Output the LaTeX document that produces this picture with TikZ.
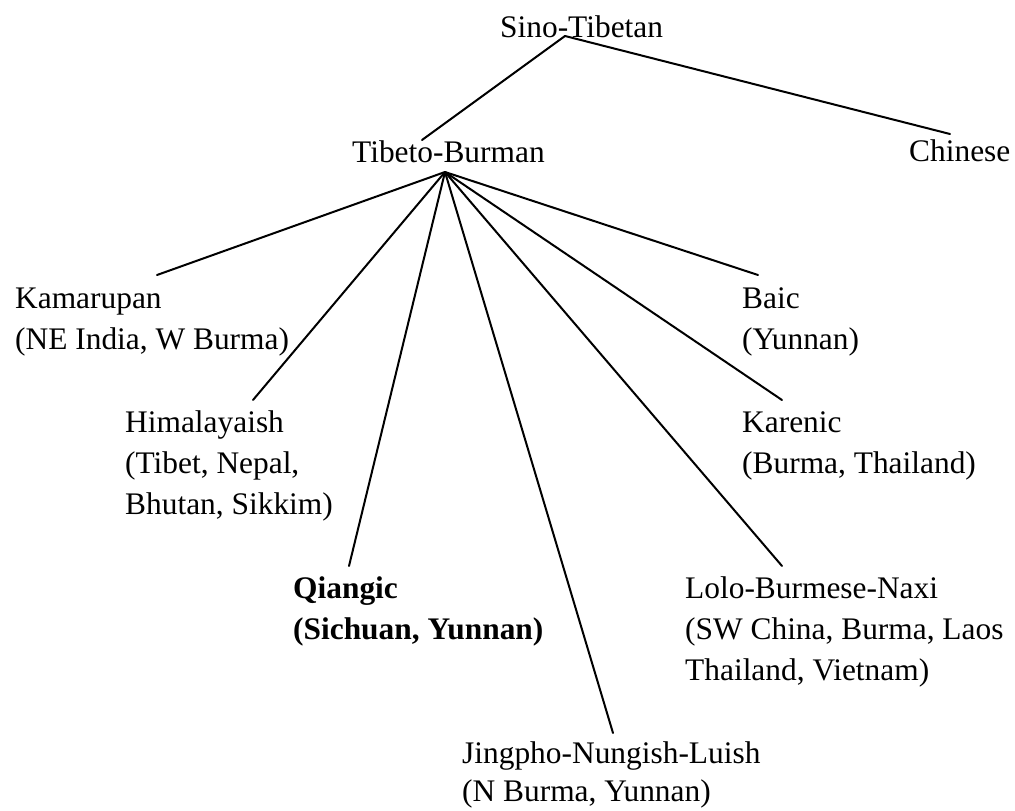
\documentclass[tikz,border=0pt]{standalone}
\usepackage{fontspec}
\setmainfont{Liberation Serif}
\newcommand\firstln{\rule{0pt}{24pt}}
\begin{document}
\begin{tikzpicture}[x=1pt,y=-1pt,
  lang/.style={anchor=north west,inner sep=0pt,align=left,
    font=\fontsize{31.4}{41}\selectfont},
  link/.style={line width=2pt,line cap=round}]
\useasboundingbox (0,0) rectangle (1015,811);
\node[lang] (st) at (500,13) {\firstln Sino-Tibetan};
\node[lang] (tb) at (352,138) {\firstln Tibeto-Burman};
\node[lang] (ch) at (909,137) {\firstln Chinese};
\node[lang] (ka) at (15,284) {\firstln Kamarupan\\(NE India, W Burma)};
\node[lang] (hi) at (125,408) {\firstln Himalayaish\\(Tibet, Nepal,\\Bhutan, Sikkim)};
\node[lang,font=\fontsize{31.4}{41}\selectfont\bfseries] (qi) at (293,574) {\firstln Qiangic\\(Sichuan, Yunnan)};
\node[lang,font=\fontsize{31.4}{38.5}\selectfont] (jp) at (462,739) {\firstln Jingpho-Nungish-Luish\\(N Burma, Yunnan)};
\node[lang] (lo) at (685,574) {\firstln Lolo-Burmese-Naxi\\(SW China, Burma, Laos\\Thailand, Vietnam)};
\node[lang] (kr) at (742,408) {\firstln Karenic\\(Burma, Thailand)};
\node[lang] (ba) at (742,284) {\firstln Baic\\(Yunnan)};
% connector ends
\coordinate (stB) at (565,36);
\coordinate (tbT) at (422,140);
\coordinate (chT) at (950,134);
\coordinate (tbB) at (445,172);
\coordinate (kaT) at (157,275);
\coordinate (hiT) at (253,400);
\coordinate (qiT) at (349,566);
\coordinate (jpT) at (613,733);
\coordinate (loT) at (782,566);
\coordinate (krT) at (782,400);
\coordinate (baT) at (758,275);
\draw[link] (stB) -- (tbT);
\draw[link] (stB) -- (chT);
\foreach \t in {kaT,hiT,qiT,jpT,loT,krT,baT}
  \draw[link] (tbB) -- (\t);
\end{tikzpicture}
\end{document}
